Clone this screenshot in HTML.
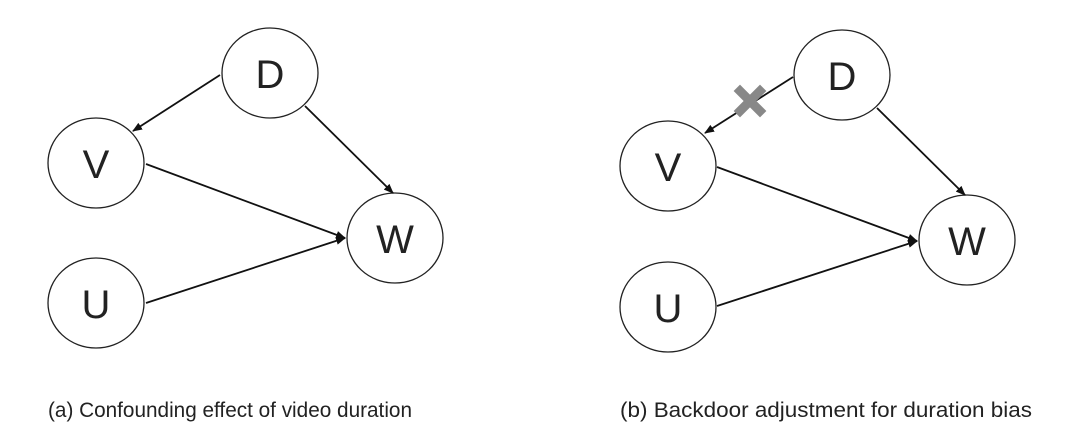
<!DOCTYPE html>
<html><head><style>
html,body{margin:0;padding:0;background:#fff;width:1080px;height:448px;overflow:hidden}
svg{display:block}
text{font-family:"Liberation Sans",sans-serif;fill:#222}
</style></head><body>
<svg width="1080" height="448" viewBox="0 0 1080 448">
<defs><marker id="a" markerWidth="10" markerHeight="8" refX="9" refY="4" orient="auto" markerUnits="userSpaceOnUse"><path d="M0,0 L10,4 L0,8 z" fill="#111"/></marker></defs>
<g stroke="#222" stroke-width="1.3" fill="#fff">
<ellipse cx="270" cy="73" rx="48" ry="45"/>
<ellipse cx="96" cy="163" rx="48" ry="45"/>
<ellipse cx="395" cy="238" rx="48" ry="45"/>
<ellipse cx="96" cy="303" rx="48" ry="45"/>
<ellipse cx="842" cy="75" rx="48" ry="45"/>
<ellipse cx="668" cy="166" rx="48" ry="45"/>
<ellipse cx="967" cy="240" rx="48" ry="45"/>
<ellipse cx="668" cy="307" rx="48" ry="45"/>
</g>
<g stroke="#111" stroke-width="1.8" marker-end="url(#a)">
<line x1="220" y1="75" x2="133" y2="131"/>
<line x1="305" y1="106" x2="393" y2="193"/>
<line x1="146" y1="164" x2="345" y2="238"/>
<line x1="146" y1="303" x2="345" y2="238"/>
<line x1="793" y1="77" x2="705" y2="133"/>
<line x1="877" y1="108" x2="965" y2="195"/>
<line x1="717" y1="167" x2="917" y2="241"/>
<line x1="717" y1="306" x2="917" y2="241"/>
</g>
<g stroke="#888" stroke-width="9" stroke-linecap="square">
<line x1="740" y1="91" x2="760" y2="111"/>
<line x1="760" y1="91" x2="740" y2="111"/>
</g>
<g font-size="40" text-anchor="middle">
<text x="270" y="88">D</text>
<text x="96" y="178">V</text>
<text x="395" y="253">W</text>
<text x="96" y="318">U</text>
<text x="842" y="90">D</text>
<text x="668" y="181">V</text>
<text x="967" y="255">W</text>
<text x="668" y="322">U</text>
</g>
<text x="48" y="417" font-size="21" textLength="364" lengthAdjust="spacingAndGlyphs">(a) Confounding effect of video duration</text>
<text x="620" y="417" font-size="21" textLength="412" lengthAdjust="spacingAndGlyphs">(b) Backdoor adjustment for duration bias</text>
</svg>
</body></html>
